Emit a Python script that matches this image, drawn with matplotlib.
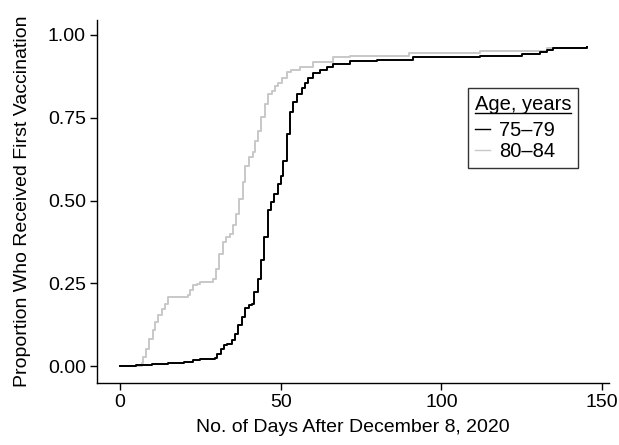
import matplotlib
matplotlib.use("Agg")
import matplotlib.pyplot as plt
from matplotlib.lines import Line2D

plt.rcParams['font.family'] = ['Liberation Sans', 'DejaVu Sans']

# 75-79 years (black)
days_75 = [0, 5, 10, 15, 20, 21.8, 22.8, 24.9, 29.6, 30.2, 31.3, 32.3, 33.3, 34.7, 35.8, 36.8, 37.9,
           38.9, 40.0, 41.0, 41.7, 42.8, 43.9, 44.9, 46.0, 47.0, 48.0, 49.1, 50.1, 50.8,
           51.9, 52.9, 53.9, 55.0, 56.5, 57.6, 58.6, 60.2, 62.2, 64.3, 66.4, 71.6, 80,
           91.3, 112, 125, 130.7, 132.8, 134.8, 145.2]
prop_75 = [0.0, 0.003, 0.006, 0.009, 0.011, 0.013, 0.018, 0.021, 0.023, 0.038, 0.053, 0.063, 0.068,
           0.078, 0.098, 0.123, 0.149, 0.174, 0.184, 0.189, 0.224, 0.264, 0.319, 0.389, 0.470,
           0.495, 0.520, 0.550, 0.575, 0.620, 0.701, 0.766, 0.796, 0.821, 0.841, 0.856, 0.871,
           0.884, 0.894, 0.902, 0.912, 0.920, 0.925, 0.932, 0.937, 0.942, 0.947, 0.954, 0.959,
           0.962]

# 80-84 years (gray)
days_80 = [0, 6.7, 7.05, 8.0, 9.0, 10.1, 10.9, 11.9, 13.0, 14.0, 15.0, 21.0, 21.8, 22.8,
           23.9, 24.9, 29.0, 29.9, 30.9, 31.9, 33.0, 34.2, 35.1, 36.1, 36.9, 38.2, 39.0,
           40.0, 41.3, 42.0, 42.9, 44.0, 45.0, 46.0, 47.2, 48.2, 49.3, 50.3, 51.9, 53.1,
           56.0, 60.2, 66.4, 71.6, 90, 112, 132.8, 145.2]
prop_80 = [0.0, 0.010, 0.028, 0.053, 0.083, 0.108, 0.134, 0.154, 0.171, 0.189, 0.209, 0.214,
           0.229, 0.244, 0.249, 0.254, 0.264, 0.294, 0.339, 0.374, 0.390, 0.400, 0.425, 0.460,
           0.505, 0.555, 0.605, 0.630, 0.646, 0.681, 0.711, 0.751, 0.791, 0.823, 0.831, 0.846,
           0.856, 0.871, 0.887, 0.894, 0.902, 0.917, 0.932, 0.937, 0.946, 0.952, 0.960, 0.962]

x_ticks = [0, 50, 100, 150]
y_ticks = [0.0, 0.25, 0.50, 0.75, 1.00]
y_tick_labels = ["0.00", "0.25", "0.50", "0.75", "1.00"]

FS = 14
LFS = 14.5

fig = plt.figure(figsize=(6.19, 4.45), dpi=100)
ax = fig.add_axes([97/619, 1 - 383/445, (609 - 97)/619, (383 - 20)/445])

ax.step(days_80, prop_80, where='post', color='#c8c8c8', lw=1.4)
ax.step(days_75, prop_75, where='post', color='black', lw=1.4)

ax.set_xlim(-7.2, 152.2)
ax.set_ylim(-0.051, 1.045)
ax.set_xticks(x_ticks)
ax.set_yticks(y_ticks)
ax.set_yticklabels(y_tick_labels)
for s in ['top', 'right']:
    ax.spines[s].set_visible(False)
for s in ['left', 'bottom']:
    ax.spines[s].set_linewidth(1.0)
ax.tick_params(axis='both', direction='out', length=5, width=1.0, labelsize=FS, pad=3)

ax.set_xlabel("No. of Days After December 8, 2020", fontsize=FS, labelpad=6)
ax.set_ylabel("Proportion Who Received First Vaccination", fontsize=FS, labelpad=12)

handles = [Line2D([0], [0], color='black', lw=1.0),
           Line2D([0], [0], color='#c8c8c8', lw=1.0)]
leg = ax.legend(handles, ["75\u201379", "80\u201384"], title="Age, years",
                loc='upper left', bbox_to_anchor=((467.7 - 97)/512, 1 - (88.3 - 20)/363),
                fontsize=LFS, title_fontsize=LFS, frameon=True, fancybox=False,
                edgecolor='black', handlelength=0.75, handletextpad=0.45, borderpad=0.35,
                labelspacing=0.08, borderaxespad=0)
leg.get_frame().set_linewidth(1.0)
leg._legend_box.align = "left"
leg._legend_box.sep = 5

# underline the legend title
fig.canvas.draw()
tb = leg.get_title().get_window_extent(fig.canvas.get_renderer())
ftrans = fig.transFigure.inverted()
(x0, y0), (x1, _) = ftrans.transform([(tb.x0, tb.y0 + 1.0), (tb.x1, tb.y0 + 1.0)])
fig.add_artist(Line2D([x0, x1], [y0, y0], color='black', lw=1.0, transform=fig.transFigure))

fig.savefig("out.png", dpi=100)
